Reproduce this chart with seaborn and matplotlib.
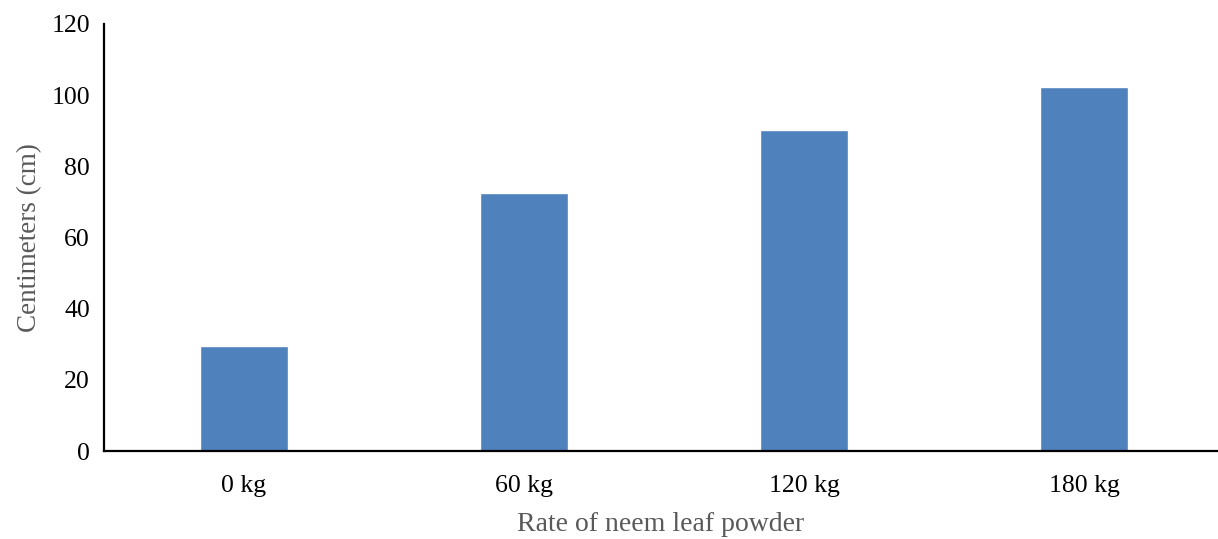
import matplotlib
matplotlib.use("Agg")
import matplotlib.pyplot as plt
import seaborn as sns
import pandas as pd

# data
rates = ["0 kg", "60 kg", "120 kg", "180 kg"]
heights_cm = [29.5, 72.5, 90.2, 102.2]

df = pd.DataFrame({"Rate": rates, "Height": heights_cm})

sns.set_style("white")
plt.rcParams["font.family"] = ["Liberation Serif", "DejaVu Serif"]

fig = plt.figure(figsize=(12.18, 5.39), dpi=100)
W, H = 1218, 539
ax = fig.add_axes([104 / W, (H - 451) / H, (W - 104) / W, (451 - 24) / H])

sns.barplot(data=df, x="Rate", y="Height", color="#4F81BD", saturation=1,
            width=0.314, ax=ax)

ax.set_ylim(0, 120)
ax.set_xlim(-0.5, 3.5 - 6 / 280)
ax.set_yticks(range(0, 121, 20))
ax.tick_params(axis="both", length=0, labelsize=18.5, colors="black")
ax.tick_params(axis="y", pad=10)
ax.tick_params(axis="x", pad=17)

for s in ["top", "right"]:
    ax.spines[s].set_visible(False)
for s in ["left", "bottom"]:
    ax.spines[s].set_color("black")
    ax.spines[s].set_linewidth(1.6)

ax.set_xlabel("Rate of neem leaf powder", fontsize=20, color="#595959", labelpad=11)
ax.set_ylabel("Centimeters (cm)", fontsize=19.5, color="#595959", labelpad=7)

fig.savefig("out.png", dpi=100)
